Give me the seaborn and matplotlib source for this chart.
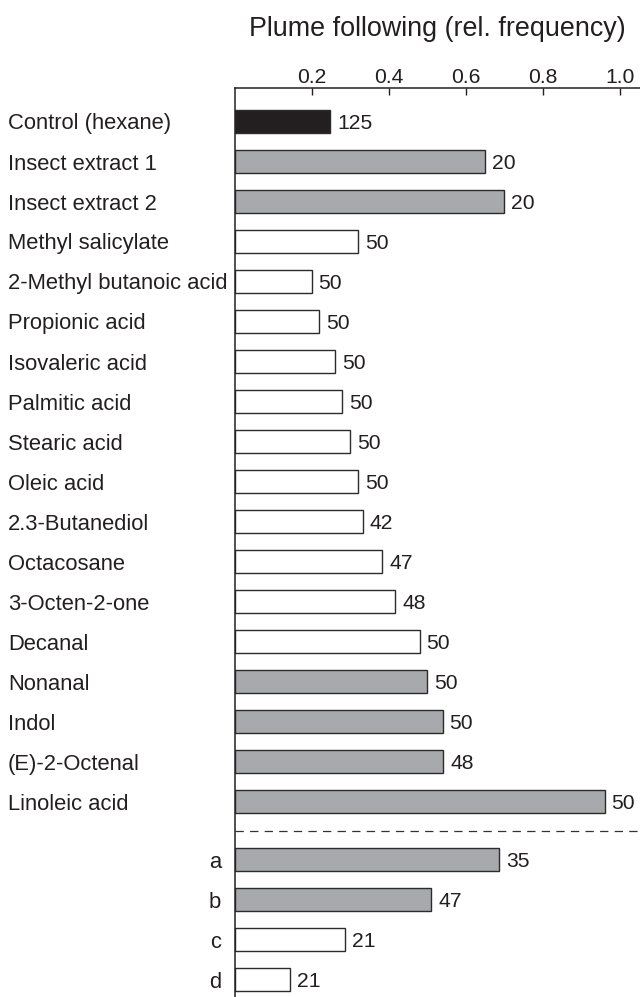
import matplotlib
matplotlib.use("Agg")
import matplotlib.pyplot as plt
import seaborn as sns
import pandas as pd
import numpy as np

# ---- data ----
labels = ["Control (hexane)", "Insect extract 1", "Insect extract 2",
          "Methyl salicylate", "2-Methyl butanoic acid", "Propionic acid",
          "Isovaleric acid", "Palmitic acid", "Stearic acid", "Oleic acid",
          "2.3-Butanediol", "Octacosane", "3-Octen-2-one", "Decanal",
          "Nonanal", "Indol", "(E)-2-Octenal", "Linoleic acid",
          "a", "b", "c", "d"]
freq = [0.248, 0.650, 0.700, 0.320, 0.200, 0.220, 0.260, 0.280, 0.300, 0.320,
        0.333, 0.383, 0.417, 0.480, 0.500, 0.540, 0.542, 0.960,
        0.686, 0.511, 0.286, 0.143]
n_obs = [125, 20, 20, 50, 50, 50, 50, 50, 50, 50, 42, 47, 48, 50, 50, 50, 48, 50,
         35, 47, 21, 21]
fill = ["black", "gray", "gray",
        "white", "white", "white", "white", "white", "white", "white",
        "white", "white", "white", "white",
        "gray", "gray", "gray", "gray",
        "gray", "gray", "white", "white"]
group = ["main"] * 18 + ["sub"] * 4
xticks = [0.2, 0.4, 0.6, 0.8, 1.0]
xtick_labels = ["0.2", "0.4", "0.6", "0.8", "1.0"]
xlabel = "Plume following (rel. frequency)"

# ---- styling ----
sns.set_style("white")
plt.rcParams["font.family"] = ["Liberation Sans", "DejaVu Sans"]
plt.rcParams["lines.scale_dashes"] = False
ink = "#231f20"
palette = {"black": "#231f20", "gray": "#a7a9ac", "white": "#ffffff"}

group_gap = 0.45
pos = np.arange(len(labels)) + np.where(np.array(group) == "sub", group_gap, 0.0)

df = pd.DataFrame({"label": labels, "freq": freq, "n": n_obs,
                   "fill": fill, "group": group, "pos": pos})

fig = plt.figure(figsize=(6.4, 9.97), dpi=100)
ax = fig.add_axes([234.5 / 640, 0.0, 1 - 234.5 / 640, 1 - 88 / 997])

sns.barplot(data=df, x="freq", y="pos", hue="fill", palette=palette,
            orient="h", native_scale=True, dodge=False, width=0.565,
            edgecolor="#2b2b2b", linewidth=1.0, saturation=1,
            legend=False, ax=ax)

ax.set_xlim(0, 1.052)
ax.set_ylim(21.8875, -0.8375)

# separator between groups
sep = 17 + (1 + group_gap) / 2
ax.axhline(sep, color="#333333", lw=0.9, dashes=(6, 4.5))

# spines and ticks
for s in ["bottom", "right"]:
    ax.spines[s].set_visible(False)
for s in ["left", "top"]:
    ax.spines[s].set_color(ink)
    ax.spines[s].set_linewidth(1.1)

ax.xaxis.tick_top()
ax.set_xticks(xticks, xtick_labels)
ax.tick_params(axis="x", direction="in", length=5, width=1.0, color=ink,
               pad=0.6, labelsize=15.2, labelcolor=ink)
ax.set_yticks([])
ax.set_ylabel("")
ax.xaxis.set_label_position("top")
ax.set_xlabel(xlabel, fontsize=19.4, color=ink, labelpad=23)

# category labels and counts
for lab, v, nn, g, p in zip(df["label"], df["freq"], df["n"], df["group"], df["pos"]):
    if g == "main":
        ax.annotate(lab, xy=(0, p), xycoords=("axes fraction", "data"),
                    xytext=(-163, 0), textcoords="offset points",
                    ha="left", va="center_baseline", fontsize=15.8, color=ink)
    else:
        ax.annotate(lab, xy=(0, p), xycoords=("axes fraction", "data"),
                    xytext=(-9.7, 0), textcoords="offset points",
                    ha="right", va="center_baseline", fontsize=15.8, color=ink)
    ax.annotate(str(nn), xy=(v, p), xytext=(5, 0), textcoords="offset points",
                ha="left", va="center_baseline", fontsize=15.2, color=ink)

fig.savefig("out.png", dpi=100)
